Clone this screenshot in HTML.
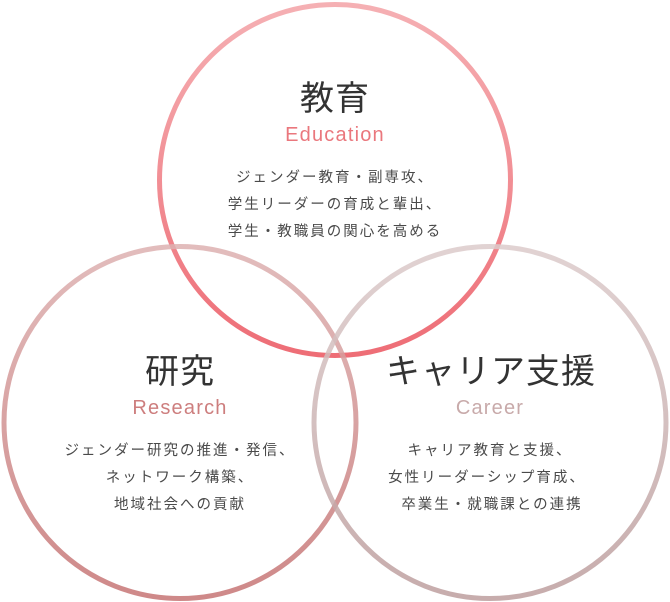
<!DOCTYPE html>
<html><head><meta charset="utf-8"><style>
html,body{margin:0;padding:0;background:#fff;width:670px;height:602px;overflow:hidden}
svg{display:block}
.t{font-family:"Liberation Sans","Noto Sans CJK JP",sans-serif;font-size:34px;fill:#333;text-anchor:middle;letter-spacing:1px}
.e{font-family:"Liberation Sans",sans-serif;font-size:20px;text-anchor:middle;letter-spacing:1.2px}
.b{font-family:"Liberation Sans","Noto Sans CJK JP",sans-serif;font-size:14.5px;fill:#4a4a4a;text-anchor:middle;letter-spacing:2px}
</style></head><body>
<svg width="670" height="602" viewBox="0 0 670 602">
<defs>
<linearGradient id="g1" x1="0" y1="0" x2="0" y2="1"><stop offset="0" stop-color="#f4a7ab"/><stop offset="1" stop-color="#ec5d67"/></linearGradient>
<linearGradient id="g2" x1="0" y1="0" x2="0" y2="1"><stop offset="0" stop-color="#ddb1b1"/><stop offset="1" stop-color="#c67474"/></linearGradient>
<linearGradient id="g3" x1="0" y1="0" x2="0" y2="1"><stop offset="0" stop-color="#dccbcb"/><stop offset="1" stop-color="#bd9e9e"/></linearGradient>
</defs>
<circle cx="335" cy="180" r="175.5" fill="none" stroke="url(#g1)" stroke-width="5" opacity="0.9"/>
<circle cx="180" cy="422.5" r="176" fill="none" stroke="url(#g2)" stroke-width="5" opacity="0.85"/>
<circle cx="490" cy="422.5" r="176" fill="none" stroke="url(#g3)" stroke-width="5" opacity="0.85"/>

<text class="t" x="335" y="110">教育</text>
<text class="e" x="335" y="141" fill="#ea777d">Education</text>
<text class="b" x="335" y="182">ジェンダー教育・副専攻、</text>
<text class="b" x="335" y="209">学生リーダーの育成と輩出、</text>
<text class="b" x="335" y="236">学生・教職員の関心を高める</text>

<text class="t" x="180" y="383">研究</text>
<text class="e" x="180" y="414" fill="#cd7e7e">Research</text>
<text class="b" x="180" y="455">ジェンダー研究の推進・発信、</text>
<text class="b" x="180" y="482">ネットワーク構築、</text>
<text class="b" x="180" y="509">地域社会への貢献</text>

<text class="t" x="491" y="383">キャリア支援</text>
<text class="e" x="490" y="414" fill="#c8aaaa">Career</text>
<text class="b" x="490" y="455">キャリア教育と支援、</text>
<text class="b" x="487" y="482">女性リーダーシップ育成、</text>
<text class="b" x="492" y="509">卒業生・就職課との連携</text>
</svg>
</body></html>
